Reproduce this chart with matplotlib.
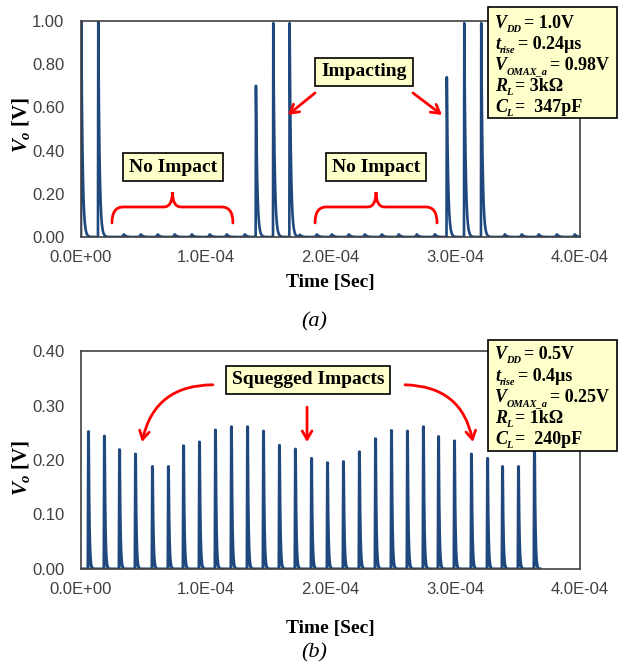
import numpy as np
import matplotlib
matplotlib.use('Agg')
import matplotlib.pyplot as plt
from matplotlib.path import Path
from matplotlib.patches import PathPatch, Rectangle
from matplotlib.ticker import FormatStrFormatter

plt.rcParams['font.family'] = ['Liberation Sans', 'DejaVu Sans']
plt.rcParams['mathtext.fontset'] = 'custom'
plt.rcParams['mathtext.rm'] = 'Liberation Serif:bold'
plt.rcParams['mathtext.it'] = 'Liberation Serif:italic:bold'
plt.rcParams['mathtext.bf'] = 'Liberation Serif:bold'

# ---- data (times in microseconds, volts) ----
# (a) VDD = 1.0V: impacting pulses and the small "no impact" bumps
a_peak_t = [0.0, 13.6, 140.0, 153.9, 167.0, 293.0, 307.0, 320.6]
a_peak_v = [1.00, 1.00, 0.70, 0.99, 0.99, 0.74, 0.99, 0.99]
a_bump_t = [32.9, 46.5, 60.1, 73.7, 87.4, 101.8, 115.4, 129.9, 174.0, 187.6,
            199.6, 213.2, 226.1, 239.7, 253.3, 267.7, 282.2, 338.3, 351.9,
            365.5, 380.0, 394.4]
a_bump_v = [0.012, 0.012, 0.012, 0.012, 0.012, 0.012, 0.012, 0.012, 0.010,
            0.012, 0.012, 0.012, 0.012, 0.012, 0.012, 0.012, 0.012, 0.012,
            0.012, 0.012, 0.012, 0.012]

# (b) VDD = 0.5V: squegged impacts
b_peak_t = [5.6, 18.4, 30.5, 43.3, 56.9, 69.7, 81.8, 94.6, 107.4, 120.2,
            133.1, 145.9, 158.7, 171.5, 184.4, 197.2, 210.0, 222.8, 235.7,
            248.5, 261.3, 274.1, 286.2, 299.0, 312.6, 325.5, 337.5, 350.3,
            363.1]
b_peak_v = [0.252, 0.244, 0.219, 0.211, 0.188, 0.188, 0.226, 0.233, 0.255,
            0.261, 0.261, 0.253, 0.227, 0.220, 0.203, 0.195, 0.197, 0.215,
            0.239, 0.254, 0.253, 0.261, 0.243, 0.235, 0.211, 0.203, 0.188,
            0.188, 0.240]

x_ticks = [0.0, 1e-4, 2e-4, 3e-4, 4e-4]
x_ticklabels = ['0.0E+00', '1.0E-04', '2.0E-04', '3.0E-04', '4.0E-04']

# (symbol, subscript, rest of line)
params_a = [('V', 'DD', '= 1.0V'), ('t', 'rise', '= 0.24µs'),
            ('V', 'OMAX_a', '= 0.98V'), ('R', 'L', '= 3kΩ'),
            ('C', 'L', '=  347pF')]
params_b = [('V', 'DD', '= 0.5V'), ('t', 'rise', '= 0.4µs'),
            ('V', 'OMAX_a', '= 0.25V'), ('R', 'L', '= 1kΩ'),
            ('C', 'L', '=  240pF')]

LINE = '#1F497D'
BOXC = '#FFFFCC'
SERIF = 'Liberation Serif'
W, H = 618, 669


def pulse_train(t, t0s, amps, rise, tau):
    v = np.zeros_like(t)
    for t0, a in zip(t0s, amps):
        up = (t >= t0) & (t < t0 + rise)
        v[up] += a * (t[up] - t0) / rise
        dn = t >= t0 + rise
        v[dn] += a * np.exp(-(t[dn] - t0 - rise) / tau)
    return v


def fx(x):
    return x / W


def fy(y):
    return 1 - y / H


def brace(ax, x0, x1, yb, ym, yt, r_end, r_mid):
    xc = (x0 + x1) / 2
    verts = [(x0, yb), (x0, ym), (x0 + r_end, ym), (xc - r_mid, ym),
             (xc, ym), (xc, yt), (xc, ym), (xc + r_mid, ym),
             (x1 - r_end, ym), (x1, ym), (x1, yb)]
    codes = [Path.MOVETO, Path.CURVE3, Path.CURVE3, Path.LINETO,
             Path.CURVE3, Path.CURVE3, Path.CURVE3, Path.CURVE3,
             Path.LINETO, Path.CURVE3, Path.CURVE3]
    ax.add_patch(PathPatch(Path(verts, codes), fc='none', ec='red', lw=2,
                           capstyle='round', zorder=4))


def label_box(ax, x, y, s):
    ax.text(x, y, s, ha='center', va='center', fontsize=14, family=SERIF,
            fontweight='bold', zorder=5,
            bbox=dict(boxstyle='square,pad=0.3', fc=BOXC, ec='black', lw=1.2))


def arrow(ax, start, end, rad=0.0):
    ax.annotate('', xy=end, xytext=start,
                arrowprops=dict(arrowstyle='->,head_length=0.6,head_width=0.35',
                                color='red', lw=2, shrinkA=0, shrinkB=0,
                                connectionstyle='arc3,rad=%s' % rad),
                zorder=5)


def param_line(fig, rend, x, y, sym, sub, rest):
    # y is the baseline in image pixels
    kw = dict(family=SERIF, fontweight='bold', va='baseline', ha='left',
              zorder=3)
    t1 = fig.text(fx(x), fy(y), sym, fontsize=13, style='italic', **kw)
    x += t1.get_window_extent(rend).width - 0.5
    t2 = fig.text(fx(x), fy(y + 4), sub, fontsize=7.5, style='italic', **kw)
    x += t2.get_window_extent(rend).width + 2.5
    fig.text(fx(x), fy(y), rest, fontsize=13, **kw)


def param_box(fig, top, bottom, lines, baselines):
    fig.patches.append(Rectangle((fx(488), fy(bottom)), fx(617) - fx(488),
                                 fy(top) - fy(bottom), transform=fig.transFigure,
                                 fc=BOXC, ec='black', lw=1.2, zorder=2))
    rend = fig.canvas.get_renderer()
    for (sym, sub, rest), y in zip(lines, baselines):
        param_line(fig, rend, 495, y, sym, sub, rest)


def style_axes(ax, ymax, ystep):
    ax.set_xlim(0, 4e-4)
    ax.set_ylim(0, ymax)
    ax.set_xticks(x_ticks)
    ax.set_xticklabels(x_ticklabels)
    ax.set_yticks(np.arange(0, ymax + 1e-9, ystep))
    ax.yaxis.set_major_formatter(FormatStrFormatter('%.2f'))
    ax.tick_params(length=0, labelsize=12, labelcolor='#404040')
    ax.tick_params(axis='x', pad=9)
    ax.tick_params(axis='y', pad=12)
    for sp in ax.spines.values():
        sp.set_color('#404040')
        sp.set_linewidth(1.2)


fig = plt.figure(figsize=(W / 100, H / 100), dpi=100)
ax1 = fig.add_axes([fx(81), fy(237), fx(580) - fx(81), fy(21) - fy(237)])
ax2 = fig.add_axes([fx(81), fy(569), fx(580) - fx(81), fy(351) - fy(569)])

# ---- (a) ----
ta = np.linspace(0, 400, 40001)
va = pulse_train(ta, a_peak_t, a_peak_v, 0.24, 1.04) + \
    pulse_train(ta, a_bump_t, a_bump_v, 1.5, 1.5)
ax1.plot(ta * 1e-6, va, color=LINE, lw=1.9)
style_axes(ax1, 1.0, 0.2)

label_box(ax1, 226.9e-6, 0.764, 'Impacting')
arrow(ax1, (187.6e-6, 0.667), (165.9e-6, 0.565))
arrow(ax1, (266.1e-6, 0.667), (289.4e-6, 0.565))
label_box(ax1, 73.7e-6, 0.324, 'No Impact')
label_box(ax1, 236.5e-6, 0.324, 'No Impact')
brace(ax1, 24.8e-6, 121.8e-6, 0.065, 0.139, 0.208, 9e-6, 7e-6)
brace(ax1, 187.6e-6, 285.4e-6, 0.065, 0.139, 0.208, 9e-6, 7e-6)

# ---- (b) ----
tb = np.linspace(0, 368, 36801)
vb = pulse_train(tb, b_peak_t, b_peak_v, 0.4, 0.6)
ax2.plot(tb * 1e-6, vb, color=LINE, lw=2.2)
style_axes(ax2, 0.4, 0.1)

label_box(ax2, 182.0e-6, 0.347, 'Squegged Impacts')
arrow(ax2, (105.8e-6, 0.338), (48.9e-6, 0.233), rad=0.4)
arrow(ax2, (181.2e-6, 0.297), (181.2e-6, 0.233))
arrow(ax2, (259.7e-6, 0.338), (314.2e-6, 0.233), rad=-0.4)

# ---- labels and parameter boxes ----
for yc, xl_y, cap_y, cap in [(125, 283, 322, '(a)'), (468, 628, 653, '(b)')]:
    fig.text(fx(21), fy(yc), r'$V_o$ [V]', rotation=90, ha='center',
             va='center', fontsize=15, family=SERIF, fontweight='bold')
    fig.text(fx(330), fy(xl_y), 'Time [Sec]', ha='center', va='center',
             fontsize=14, family=SERIF, fontweight='bold')
    fig.text(fx(314), fy(cap_y), cap, ha='center', va='center',
             fontsize=16, family=SERIF, style='italic')

param_box(fig, 7, 118, params_a, [28, 49, 70, 91, 112])
param_box(fig, 340, 451, params_b, [359, 381, 402, 423, 444])

fig.savefig('out.png', dpi=100)
